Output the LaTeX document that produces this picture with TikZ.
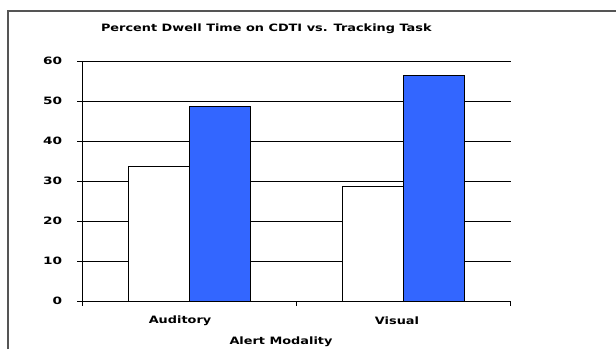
\documentclass[tikz,border=0pt]{standalone}
\usepackage{fontspec}
\setmainfont{DejaVu Sans}
\definecolor{barblue}{HTML}{3366FF}
\definecolor{framegray}{HTML}{555555}
\newcommand{\wide}[1]{\scalebox{1.27}[1]{#1}}
\begin{document}
\begin{tikzpicture}[x=0.75pt,y=-0.75pt,
  lbl/.style={font=\bfseries\fontsize{7.6pt}{8pt}\selectfont, inner sep=0pt},
  grid/.style={line width=0.75pt, black},
  barw/.style={draw=black, line width=0.75pt, fill=white},
  barb/.style={draw=black, line width=0.75pt, fill=barblue}]
\useasboundingbox (0,0) rectangle (616,349);
% frame
\draw[framegray, line width=1.3pt] (8,349) -- (8,10.7) -- (616,10.7);
% gridlines and y ticks
\foreach \v in {0,10,...,60}{
  \pgfmathsetmacro{\yy}{301.3-4*\v}
  \draw[grid] (77,\yy) -- (510.7,\yy);
  \node[lbl, anchor=east] (y\v) at (62.5,\yy) {\scalebox{1.35}[1]{\v}};
}
% y axis
\draw[grid] (82.3,61.3) -- (82.3,301.3);
% x ticks
\foreach \x in {82.3,296.5,510.7}{
  \draw[grid] (\x,301.3) -- (\x,306);
}
% bars
\draw[barw] (128.3,301.3) rectangle (189.3,{301.3-4*33.65});
\draw[barb] (189.3,301.3) rectangle (250.7,{301.3-4*48.6});
\draw[barw] (342.3,301.3) rectangle (403.3,{301.3-4*28.65});
\draw[barb] (403.3,301.3) rectangle (464.3,{301.3-4*56.5});
\draw[grid] (82.3,301.3) -- (510.7,301.3);
% labels
\node[lbl] (title) at (266.3,28.3) {\wide{Percent Dwell Time on CDTI vs. Tracking Task}};
\node[lbl] (aud) at (180,321) {\wide{Auditory}};
\node[lbl] (vis) at (397,321) {\wide{Visual}};
\node[lbl] (xlab) at (281,341.5) {\wide{Alert Modality}};
\end{tikzpicture}
\end{document}
